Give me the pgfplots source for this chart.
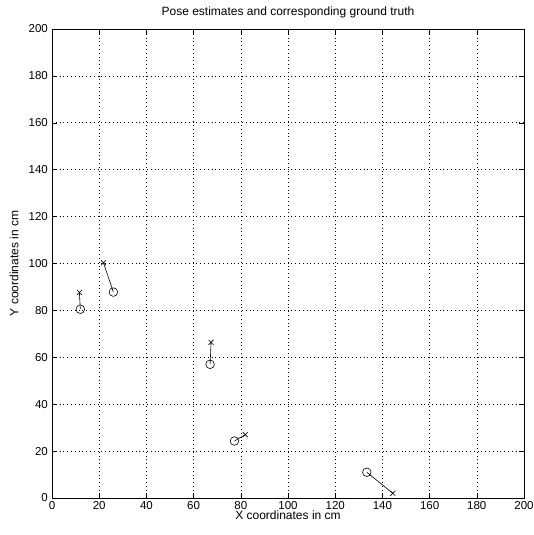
\documentclass[border=0pt]{standalone}
\usepackage{pgfplots}
\pgfplotsset{compat=1.18}
\usepackage{fontspec}
\setmainfont{Liberation Sans}
\begin{document}
\fontsize{12}{14}\selectfont
\begin{tikzpicture}
\begin{axis}[
  name=ax,
  scale only axis, width=472pt, height=469pt,
  xmin=0, xmax=200, ymin=0, ymax=200,
  xtick={0,20,...,200}, ytick={0,20,...,200},
  grid=major,
  major grid style={black, line width=0.6pt, dash pattern=on 0.6pt off 3.2pt},
  tick align=inside, tick pos=both,
  major tick length=5pt,
  axis line style={black, line width=0.8pt},
  every tick/.style={black, line width=0.5pt},
  /pgf/number format/assume math mode=true,
  tick label style={font=\fontsize{11.5}{13}\selectfont},
  xticklabel style={yshift=1pt},
  label style={font=\fontsize{12}{14}\selectfont},
  title style={font=\fontsize{12}{14}\selectfont, yshift=1pt},
  title={Pose estimates and corresponding ground truth},
  xlabel={X coordinates in cm},
  ylabel={Y coordinates in cm},
  xlabel style={yshift=6.5pt},
  ylabel style={yshift=2pt},
  clip=false,
]
\addplot[black, line width=0.6pt] coordinates {(11.6,87.7) (12.0,80.5)};
\addplot[black, line width=0.6pt] coordinates {(21.8,100.3) (26.0,87.8)};
\addplot[black, line width=0.6pt] coordinates {(67.4,66.4) (67.0,57.0)};
\addplot[black, line width=0.6pt] coordinates {(81.9,27.0) (77.3,24.3)};
\addplot[black, line width=0.6pt] coordinates {(144.4,2.0) (133.4,11.0)};
\addplot[only marks, mark=x, mark size=3.5pt, black, line width=0.6pt] coordinates {
(11.6,87.7) (21.8,100.3) (67.4,66.4) (81.9,27.0) (144.4,2.0)};
\addplot[only marks, mark=o, mark size=4.3pt, black, line width=0.6pt] coordinates {
(12.0,80.5) (26.0,87.8) (67.0,57.0) (77.3,24.3) (133.4,11.0)};
\end{axis}
\pgfresetboundingbox
\path[use as bounding box] ([xshift=-52pt,yshift=-37pt]ax.south west) rectangle ([xshift=9pt,yshift=29pt]ax.north east);
\end{tikzpicture}
\end{document}
